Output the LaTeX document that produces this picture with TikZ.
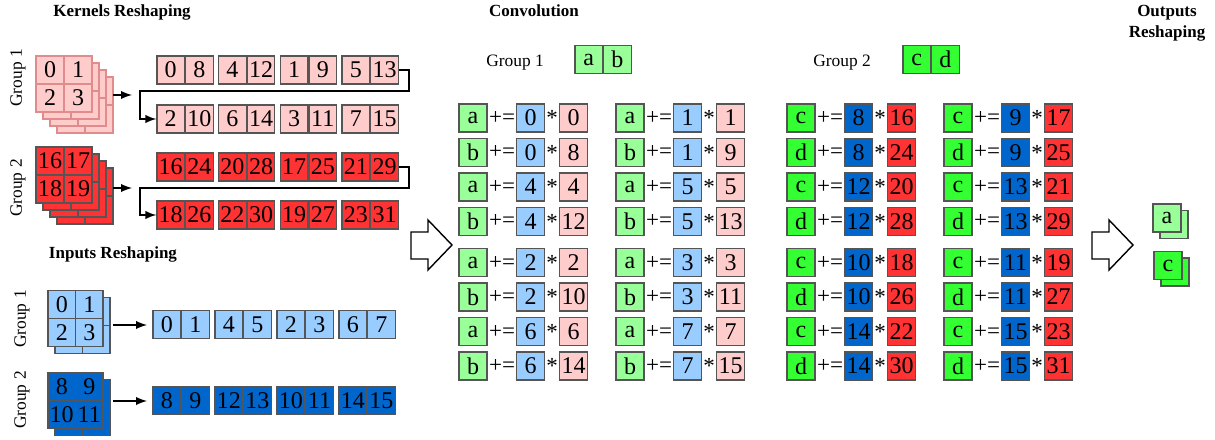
\documentclass[tikz,border=0pt]{standalone}
\usepackage{fontspec}
\setmainfont{Liberation Serif}
\usetikzlibrary{calc,arrows}

\definecolor{kpink}{RGB}{255,204,204}
\definecolor{kred}{RGB}{255,51,51}
\definecolor{iblue}{RGB}{153,204,255}
\definecolor{idblue}{RGB}{0,102,204}
\definecolor{ogreen}{RGB}{153,255,153}
\definecolor{odgreen}{RGB}{51,255,51}
\definecolor{edge}{RGB}{85,85,85}
\definecolor{kedge}{RGB}{225,140,140}

\tikzset{
  tile/.style={draw=edge,line width=0.6pt,inner sep=0pt,minimum width=13.75pt,minimum height=14pt,font=\fontsize{12}{14}\selectfont},
  sq/.style={tile,minimum width=14pt},
  title/.style={font=\fontsize{8.5}{10.5}\selectfont\bfseries,inner sep=0pt},
  grp/.style={font=\fontsize{8.7}{10}\selectfont,inner sep=0pt},
  op/.style={font=\fontsize{11.5}{13}\selectfont,inner sep=0pt},
  conn/.style={-latex,line width=0.9pt},
  hollow/.style={draw,line width=0.7pt,fill=white}
}

\begin{document}
\begin{tikzpicture}[x=0.5pt,y=-0.5pt]
\useasboundingbox (0,0) rectangle (1215,439);

% titles
\node[title,anchor=base] (tk) at (122,17) {Kernels Reshaping};
\node[title,anchor=base] (ti) at (113,258) {Inputs Reshaping};
\node[title,anchor=base] (tc) at (534,17) {Convolution};
\node[title,align=center,anchor=north] (to) at (1167,5) {Outputs\\Reshaping};

\node[grp,rotate=90] (gk1) at (18,78) {Group 1};
\node[grp,rotate=90] (gk2) at (18,188) {Group 2};
\node[grp,rotate=90] (gi1) at (22,319) {Group 1};
\node[grp,rotate=90] (gi2) at (22,400) {Group 2};
\node[grp,anchor=base] (gc1) at (515,66) {Group 1};
\node[grp,anchor=base] (gc2) at (842,66) {Group 2};

% kernel stacks
\foreach \o in {21,14,7}
  \foreach \cx/\cy [count=\n] in {50/70,78/70,50/98,78/98}
    \node[sq,draw=kedge,fill=kpink] (k1b\o\n) at (\cx+\o,\cy+\o) {};
\foreach \t/\cx/\cy [count=\n] in {0/50/70,1/78/70,2/50/98,3/78/98}
  \node[sq,draw=kedge,fill=kpink] (k1\n) at (\cx,\cy) {\t};

\foreach \o in {21,14,7}
  \foreach \cx/\cy [count=\n] in {50/161,78/161,50/189,78/189}
    \node[sq,fill=kred] (k2b\o\n) at (\cx+\o,\cy+\o) {};
\foreach \t/\cx/\cy [count=\n] in {16/50/161,17/78/161,18/50/189,19/78/189}
  \node[sq,fill=kred] (k2\n) at (\cx,\cy) {\t};

% input stacks
\foreach \cx/\cy [count=\n] in {61.75/304.75,89.25/304.75,61.75/332.25,89.25/332.25}
  \node[tile,fill=iblue] (i1b\n) at (\cx+7,\cy+7) {};
\foreach \t/\cx/\cy [count=\n] in {0/61.75/304.75,1/89.25/304.75,2/61.75/332.25,3/89.25/332.25}
  \node[tile,fill=iblue] (i1\n) at (\cx,\cy) {\t};

\foreach \cx/\cy [count=\n] in {61.75/386.75,89.25/386.75,61.75/414.25,89.25/414.25}
  \node[tile,fill=idblue] (i2b\n) at (\cx+7,\cy+7) {};
\foreach \t/\cx/\cy [count=\n] in {8/61.75/386.75,9/89.25/386.75,10/61.75/414.25,11/89.25/414.25}
  \node[tile,fill=idblue] (i2\n) at (\cx,\cy) {\t};

% reshaped kernels
\foreach \y/\col/\pairs [count=\r] in {
  70/kpink/{0/8,4/12,1/9,5/13},
  119/kpink/{2/10,6/14,3/11,7/15},
  167/kred/{16/24,20/28,17/25,21/29},
  215/kred/{18/26,22/30,19/27,23/31}}
  \foreach \a/\b [count=\n] in \pairs {
    \node[tile,fill=\col] (r\r a\n) at (109+61.7*\n,\y) {\a};
    \node[tile,fill=\col,anchor=west] (r\r b\n) at (r\r a\n.east) {\b};
  }

% reshaped inputs
\foreach \y/\col/\pairs [count=\r] in {
  324.5/iblue/{0/1,4/5,2/3,6/7},
  400.5/idblue/{8/9,12/13,10/11,14/15}}
  \foreach \a/\b [count=\n] in \pairs {
    \node[tile,fill=\col] (s\r a\n) at (104.75+62*\n,\y) {\a};
    \node[tile,fill=\col,anchor=west] (s\r b\n) at (s\r a\n.east) {\b};
  }

% arrows
\coordinate (k1out) at (113,95);  \coordinate (k1in) at (132,95);
\coordinate (k2out) at (113,188); \coordinate (k2in) at (132,188);
\coordinate (i1out) at (113,325); \coordinate (i1in) at (147,325);
\coordinate (i2out) at (113,401); \coordinate (i2in) at (147,401);
\draw[conn] (k1out) -- (k1in);
\draw[conn] (k2out) -- (k2in);
\draw[conn] (i1out) -- (i1in);
\draw[conn] (i2out) -- (i2in);

\coordinate (turn1) at (140,91);
\coordinate (turn2) at (140,188);
\draw[conn] (r1b4.east) -- ++(10,0) |- (turn1) |- (r2a1.west);
\draw[conn] (r3b4.east) -- ++(10,0) |- (turn2) |- (r4a1.west);

\draw[hollow] (411,232) -- (428,232) -- (428,220) -- (452,245) -- (428,270) -- (428,259) -- (411,259) -- cycle;
\draw[hollow] (1092,232) -- (1109,232) -- (1109,220) -- (1133,245) -- (1109,270) -- (1109,259) -- (1092,259) -- cycle;

% convolution
\node[tile,fill=ogreen] (ga) at (588.75,59.5) {a};
\node[tile,fill=ogreen,anchor=west] (gb) at (ga.east) {b};
\node[tile,fill=odgreen] (gcc) at (916.75,59.5) {c};
\node[tile,fill=odgreen,anchor=west] (gd) at (gcc.east) {d};

\foreach \x/\oc/\ic/\kc/\rows in {
  459/ogreen/iblue/kpink/{a/0/0,b/0/8,a/4/4,b/4/12,a/2/2,b/2/10,a/6/6,b/6/14},
  616/ogreen/iblue/kpink/{a/1/1,b/1/9,a/5/5,b/5/13,a/3/3,b/3/11,a/7/7,b/7/15},
  787/odgreen/idblue/kred/{c/8/16,d/8/24,c/12/20,d/12/28,c/10/18,d/10/26,c/14/22,d/14/30},
  944/odgreen/idblue/kred/{c/9/17,d/9/25,c/13/21,d/13/29,c/11/19,d/11/27,c/15/23,d/15/31}}
  \foreach \o/\i/\k [count=\r] in \rows {
    \pgfmathsetmacro{\y}{118+34.5*(\r-1)+6.5*(\r>4)}
    \node[sq,fill=\oc] (out\x\r) at (\x+14,\y) {\o};
    \node[op] (pe\x\r) at (\x+43,\y) {+=};
    \node[sq,fill=\ic] (in\x\r) at (\x+71.5,\y) {\i};
    \node[op] (mul\x\r) at (\x+93,\y) {*};
    \node[sq,fill=\kc] (ker\x\r) at (\x+114.5,\y) {\k};
  }

% outputs
\node[sq,fill=ogreen] (oab) at (1174,224.5) {};
\node[sq,fill=ogreen] (oa) at (1167,218) {a};
\node[sq,fill=odgreen] (ocb) at (1175,272) {};
\node[sq,fill=odgreen] (oc) at (1168,265.5) {c};
\end{tikzpicture}
\end{document}
